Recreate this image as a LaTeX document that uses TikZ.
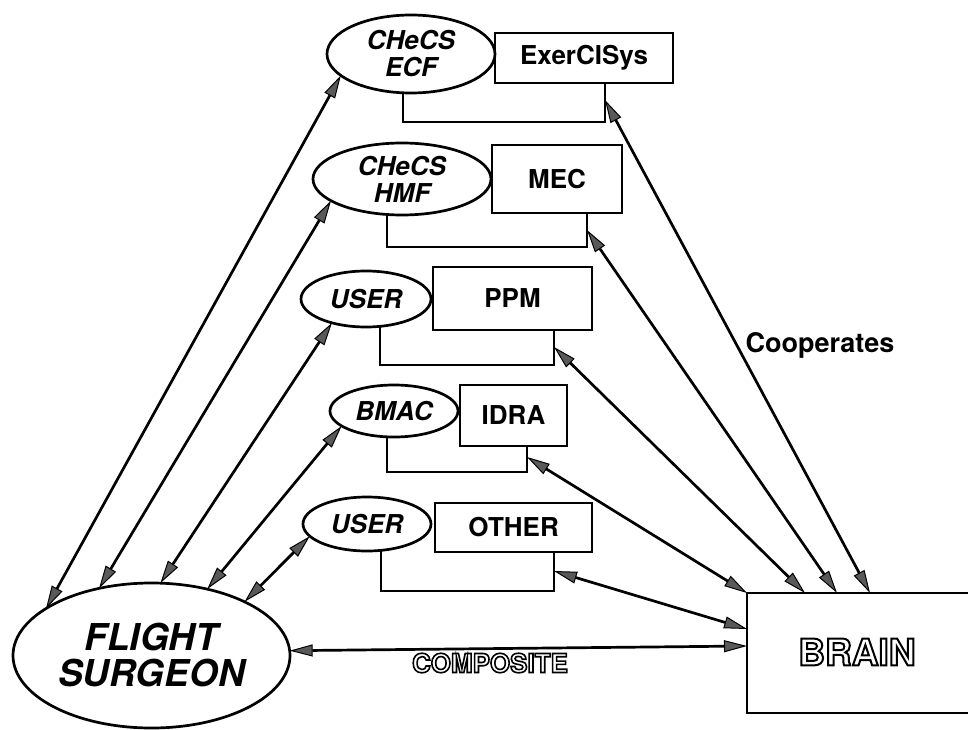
\documentclass[tikz,border=0pt]{standalone}
\usepackage{fontspec}
\setmainfont{TeX Gyre Heros}
\usetikzlibrary{shapes.geometric,arrows.meta}
\tikzset{
  ell/.style={ellipse,draw,line width=2.7pt,inner sep=0pt,outer sep=0pt,align=center,
    font=\bfseries\itshape\fontsize{26}{27}\selectfont},
  boxn/.style={rectangle,draw,line width=2.7pt,inner sep=0pt,outer sep=0pt,
    font=\bfseries\fontsize{26}{28}\selectfont},
  brk/.style={line width=2.7pt},
  tipx/.tip={Triangle[length=23pt,width=12pt,fill=black!65,line width=1pt]},
  conn/.style={line width=2.7pt,arrows={tipx-tipx}},
  hollow/.style={font=\bfseries\fontsize{#1}{#1}\selectfont,inner sep=0pt}
}
\newcommand{\outl}[2]{\special{pdf:literal direct 1 Tr #1 w}#2\special{pdf:literal direct 0 Tr}}
\begin{document}
\begin{tikzpicture}[x=1pt,y=-1pt]
\useasboundingbox (0,0) rectangle (968,730);
% ellipses
\node[ell,minimum width=168pt,minimum height=78pt] (ecf) at (411,54) {CHeCS\\ECF};
\node[ell,minimum width=178pt,minimum height=72pt] (hmf) at (402,179) {CHeCS\\HMF};
\node[ell,minimum width=130pt,minimum height=56pt] (u1) at (366,299) {USER};
\node[ell,minimum width=128pt,minimum height=52pt] (bmac) at (394,411) {BMAC};
\node[ell,minimum width=128pt,minimum height=54pt] (u2) at (367,524) {USER};
\node[ell,minimum width=277pt,minimum height=145pt,
      font=\bfseries\itshape\fontsize{37}{36}\selectfont] (fs) at (151.5,655.5) {FLIGHT\\SURGEON};
% boxes
\node[boxn,minimum width=178pt,minimum height=50pt] (exer) at (584,58) {ExerCISys};
\node[boxn,minimum width=130pt,minimum height=68pt] (mec) at (557,179) {MEC};
\node[boxn,minimum width=159pt,minimum height=63pt] (ppm) at (512.5,298.5) {PPM};
\node[boxn,minimum width=107pt,minimum height=61pt] (idra) at (513.5,415.5) {IDRA};
\node[boxn,minimum width=157pt,minimum height=49pt] (other) at (513.5,527.5) {OTHER};
\node[boxn,minimum width=228pt,minimum height=120pt] (brain) at (861,653) {};
% label
\node[font=\bfseries\fontsize{27}{27}\selectfont,inner sep=0pt] (coop) at (820,345) {Cooperates};
% brackets
\draw[brk] ([xshift=-8pt]ecf.south) |- ([xshift=21pt,yshift=-39pt]exer.south) -- ([xshift=21pt]exer.south);
\draw[brk] ([xshift=-15pt]hmf.south) |- ([xshift=30pt,yshift=-34pt]mec.south) -- ([xshift=30pt]mec.south);
\draw[brk] ([xshift=14pt]u1.south) |- ([xshift=41.5pt,yshift=-35pt]ppm.south) -- ([xshift=41.5pt]ppm.south);
\draw[brk] ([xshift=-7pt]bmac.south) |- ([xshift=13.5pt,yshift=-26pt]idra.south) -- ([xshift=13.5pt]idra.south);
\draw[brk] ([xshift=14pt]u2.south) |- ([xshift=40.5pt,yshift=-39pt]other.south) -- ([xshift=40.5pt]other.south);
% bracket arrow points
\coordinate (b1) at ([xshift=21pt,yshift=-17pt]exer.south);
\coordinate (b2) at ([xshift=30pt,yshift=-17pt]mec.south);
\coordinate (b3) at ([xshift=41.5pt,yshift=-17pt]ppm.south);
\coordinate (b4) at ([xshift=13.5pt,yshift=-11pt]idra.south);
\coordinate (b5) at ([xshift=40.5pt,yshift=-19pt]other.south);
% brain arrow points
\coordinate (e1) at ([xshift=123pt]brain.north west);
\coordinate (e2) at ([xshift=90pt]brain.north west);
\coordinate (e3) at ([xshift=58pt]brain.north west);
\coordinate (e4) at (brain.north west);
\coordinate (e5) at ([yshift=-36pt]brain.north west);
\coordinate (e6) at ([yshift=-53pt]brain.north west);
% connectors to brain
\draw[conn] (b1) -- (e1);
\draw[conn] (b2) -- (e2);
\draw[conn] (b3) -- (e3);
\draw[conn] (b4) -- (e4);
\draw[conn] (b5) -- (e5);
\draw[conn] (fs.2.3) -- (e6);
% connectors to flight surgeon
\draw[conn] (ecf.197) -- (fs.156.8);
\draw[conn] (hmf.197) -- (fs.128.1);
\draw[conn] (u1.215.7) -- (fs.83.2);
\draw[conn] (bmac.196.5) -- (fs.50.5);
\draw[conn] (u2.192) -- (fs.30.6);
% hollow labels last
\node[hollow=37] (brainlbl) at (857,652) {\outl{2}{BRAIN}};
\node[hollow=26] (comp) at (490,663) {\outl{1.6}{COMPOSITE}};
\end{tikzpicture}
\end{document}
